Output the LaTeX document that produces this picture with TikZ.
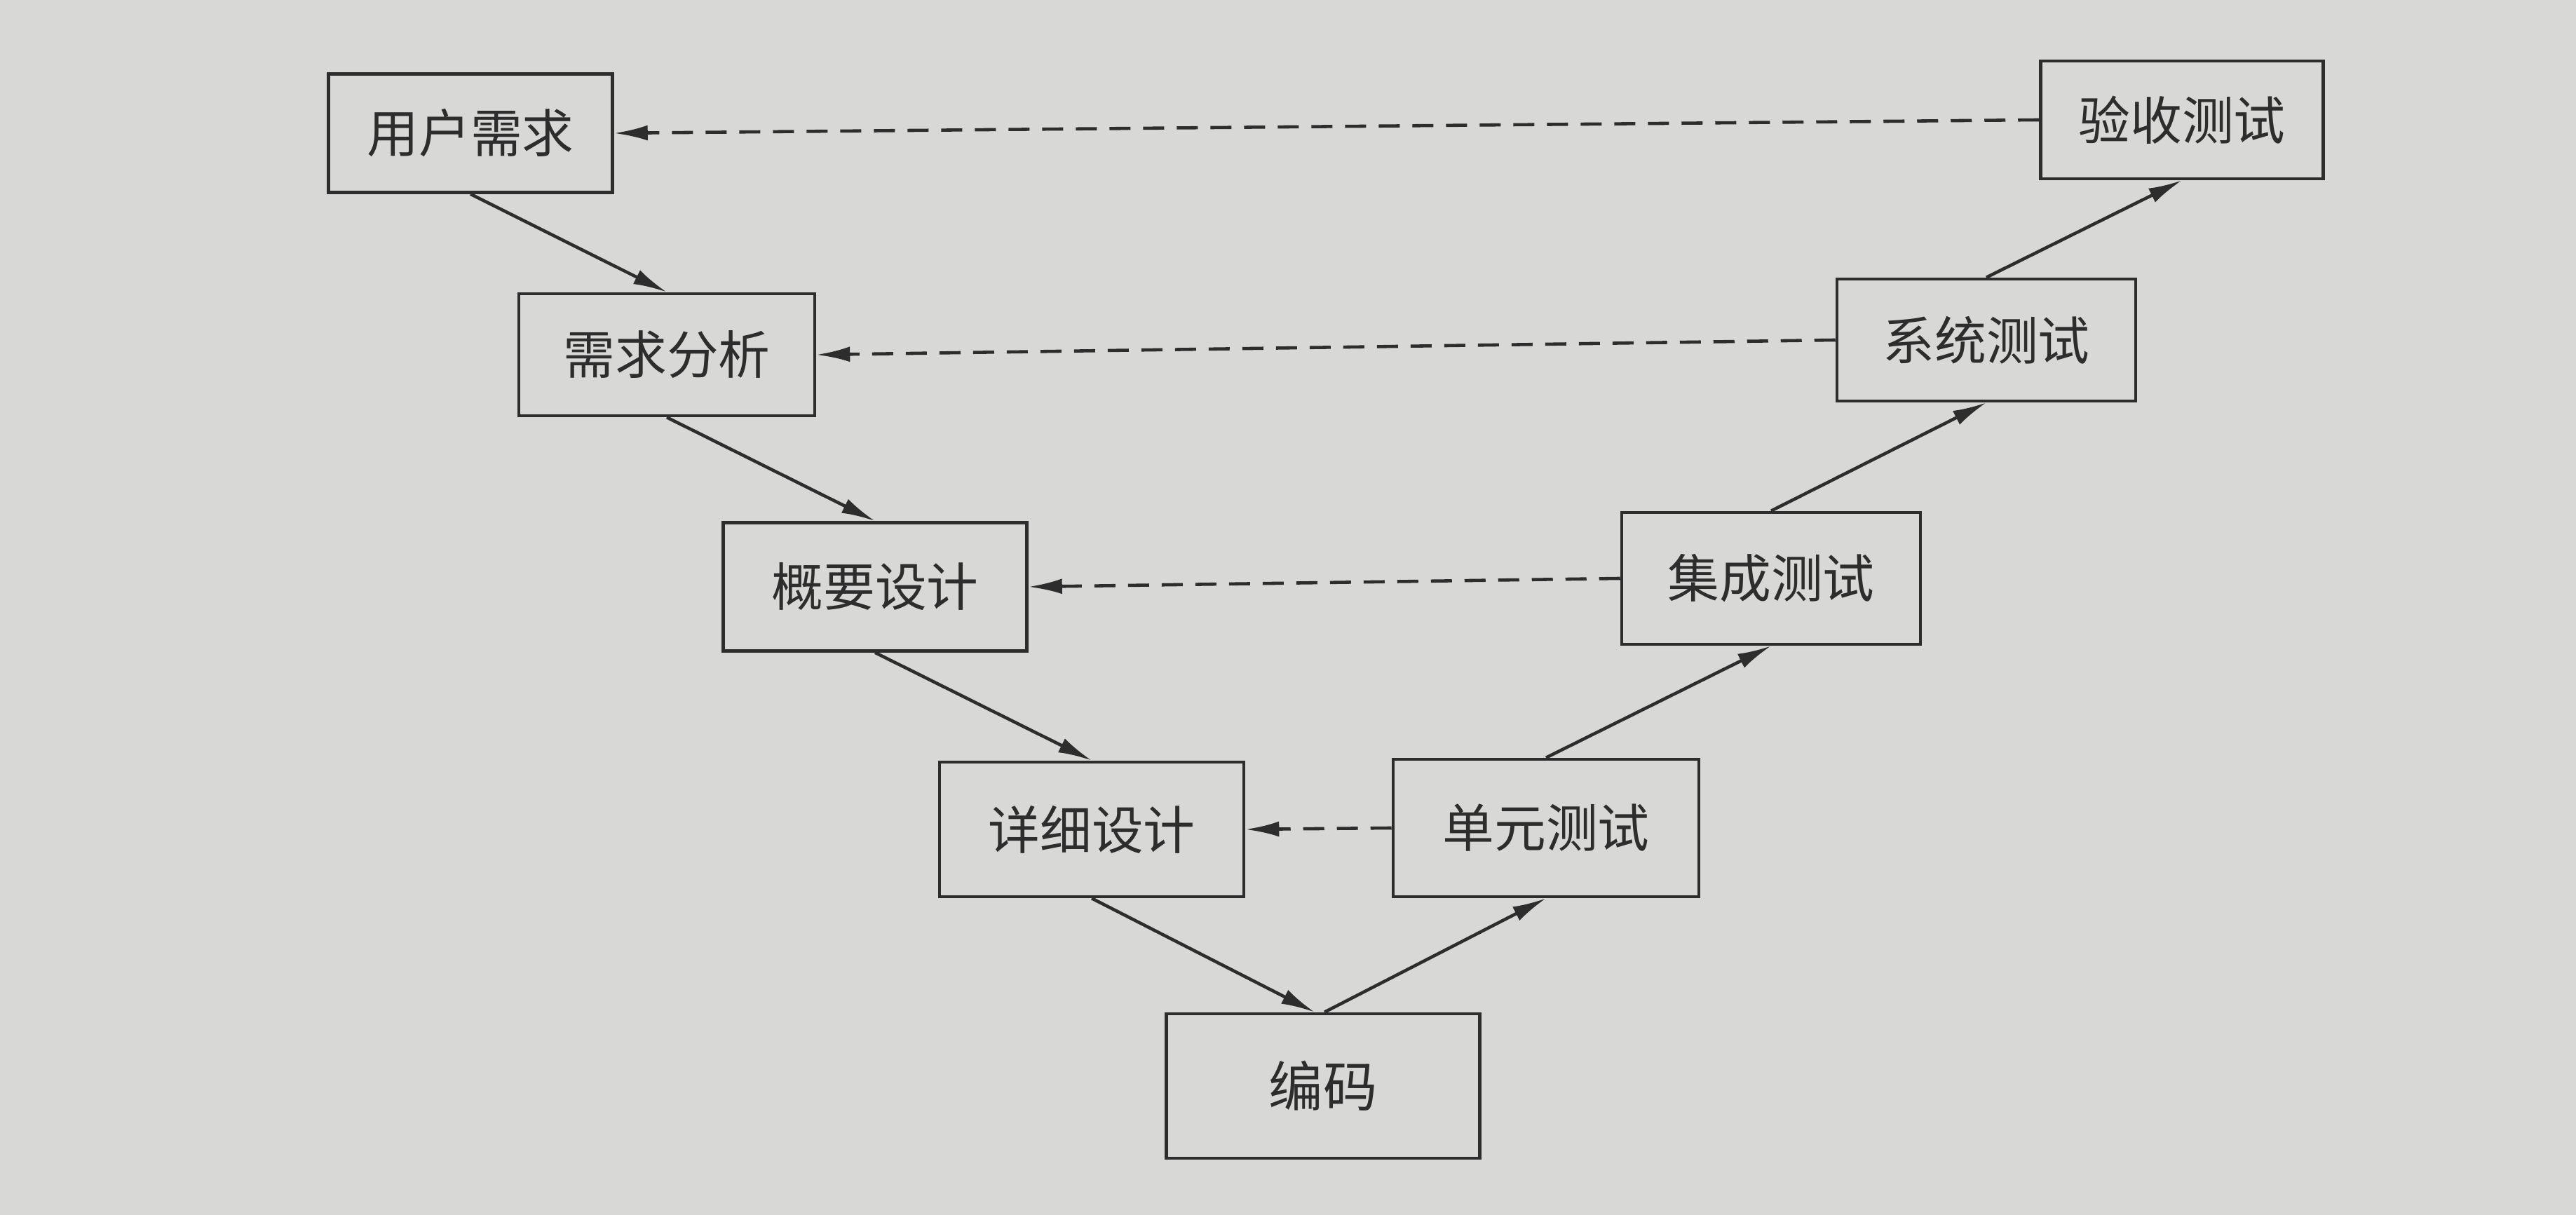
\documentclass[tikz,border=0pt]{standalone}
\usepackage{fontspec}
\newfontfamily\cjk{Noto Sans CJK SC}
\usetikzlibrary{arrows.meta}
\definecolor{paper}{RGB}{216,216,214}
\definecolor{ink}{RGB}{45,45,45}

\begin{document}
\begin{tikzpicture}[x=1cm,y=1cm,
  stage/.style={draw=ink,line width=1.3pt,fill=paper,text=ink,
    font=\cjk\fontsize{21}{25}\selectfont,inner sep=0pt},
  flow/.style={draw=ink,line width=1.3pt,-{Latex[length=0.48cm,width=0.22cm]}},
  back/.style={flow,dash pattern=on 0.3cm off 0.18cm}]
  \fill[paper] (0,0) rectangle (36.74,17.33);
  \useasboundingbox (0,0) rectangle (36.74,17.33);

  % left branch
  \node[stage,minimum width=4.05cm,minimum height=1.69cm] (yhxq) at (6.71,15.43) {用户需求};
  \node[stage,minimum width=4.22cm,minimum height=1.74cm] (xqfx) at (9.51,12.27) {需求分析};
  \node[stage,minimum width=4.33cm,minimum height=1.83cm] (gysj) at (12.48,8.96) {概要设计};
  \node[stage,minimum width=4.34cm,minimum height=1.92cm] (xxsj) at (15.57,5.50) {详细设计};
  \node[stage,minimum width=4.47cm,minimum height=2.06cm,font=\cjk\fontsize{22}{26}\selectfont] (bm) at (18.87,1.84) {编码};
  % right branch
  \node[stage,minimum width=4.36cm,minimum height=1.96cm] (dycs) at (22.05,5.52) {单元测试};
  \node[stage,minimum width=4.26cm,minimum height=1.88cm] (jccs) at (25.26,9.08) {集成测试};
  \node[stage,minimum width=4.26cm,minimum height=1.74cm] (xtcs) at (28.33,12.48) {系统测试};
  \node[stage,minimum width=4.03cm,minimum height=1.68cm] (yscs) at (31.12,15.62) {验收测试};

  \draw[flow] (yhxq.south) -- (xqfx.north);
  \draw[flow] (xqfx.south) -- (gysj.north);
  \draw[flow] (gysj.south) -- (xxsj.north);
  \draw[flow] (xxsj.south) -- ([xshift=-0.12cm]bm.north);
  \draw[flow] ([xshift=0.02cm]bm.north) -- (dycs.south);
  \draw[flow] (dycs.north) -- (jccs.south);
  \draw[flow] (jccs.north) -- (xtcs.south);
  \draw[flow] (xtcs.north) -- (yscs.south);

  \draw[back] (yscs.west) -- (yhxq.east);
  \draw[back] (xtcs.west) -- (xqfx.east);
  \draw[back] (jccs.west) -- (gysj.east);
  \draw[back] (dycs.west) -- (xxsj.east);
\end{tikzpicture}
\end{document}
